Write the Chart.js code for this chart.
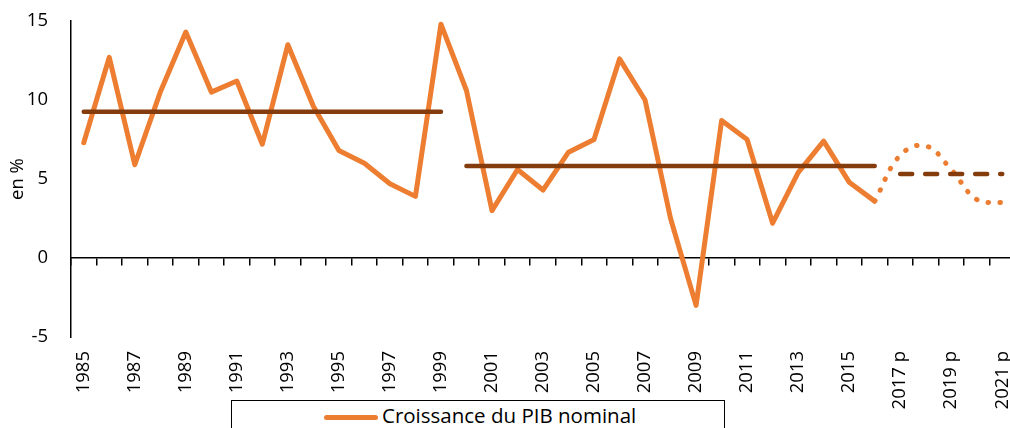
<!DOCTYPE html>
<html>
<head>
<meta charset="utf-8">
<script src="https://cdn.jsdelivr.net/npm/chart.js@4"></script>
<style>
  html, body { margin: 0; padding: 0; background: #fff; overflow: hidden; }
  #wrap { position: relative; width: 1016px; height: 428px; }
  #legendBox {
    position: absolute; left: 231px; top: 400px; width: 494px; height: 40px;
    border: 1.3px solid #000; box-sizing: border-box; background: #fff;
    font-family: "Open Sans", sans-serif; font-size: 20.5px; color: #000;
  }
  #legendBox .swatch {
    position: absolute; left: 92px; top: 14px; width: 54px; height: 5px;
    border-radius: 3px; background: #ED7D31;
  }
  #legendBox .txt { position: absolute; left: 150px; top: 0px; white-space: nowrap; }
</style>
</head>
<body>
<div id="wrap">
  <canvas id="myChart" width="1016" height="428"></canvas>
  <div id="legendBox"><span class="swatch"></span><span class="txt">Croissance du PIB nominal</span></div>
</div>
<script>
// categories
const years = ['1985','1986','1987','1988','1989','1990','1991','1992','1993','1994',
  '1995','1996','1997','1998','1999','2000','2001','2002','2003','2004',
  '2005','2006','2007','2008','2009','2010','2011','2012','2013','2014',
  '2015','2016','2017 p','2018 p','2019 p','2020 p','2021 p'];

// nominal GDP growth, observed (en %)
const growth = [7.3, 12.7, 5.9, 10.5, 14.3, 10.5, 11.2, 7.2, 13.5, 9.6,
  6.8, 6.0, 4.7, 3.9, 14.8, 10.6, 3.0, 5.6, 4.3, 6.7,
  7.5, 12.6, 10.0, 2.5, -3.0, 8.7, 7.5, 2.2, 5.4, 7.4,
  4.8, 3.6, null, null, null, null, null];

// forecast part (dotted)
const growthForecast = [null, null, null, null, null, null, null, null, null, null,
  null, null, null, null, null, null, null, null, null, null,
  null, null, null, null, null, null, null, null, null, null,
  null, 3.6, 6.5, 7.1, 5.6, 3.7, 3.5];

// period averages
const avg1985_1999 = [9.26, 9.26, 9.26, 9.26, 9.26, 9.26, 9.26, 9.26, 9.26, 9.26,
  9.26, 9.26, 9.26, 9.26, 9.26, null, null, null, null, null,
  null, null, null, null, null, null, null, null, null, null,
  null, null, null, null, null, null, null];
const avg2000_2016 = [null, null, null, null, null, null, null, null, null, null,
  null, null, null, null, null, 5.82, 5.82, 5.82, 5.82, 5.82,
  5.82, 5.82, 5.82, 5.82, 5.82, 5.82, 5.82, 5.82, 5.82, 5.82,
  5.82, 5.82, null, null, null, null, null];
const avg2017_2021 = [null, null, null, null, null, null, null, null, null, null,
  null, null, null, null, null, null, null, null, null, null,
  null, null, null, null, null, null, null, null, null, null,
  null, null, 5.32, 5.32, 5.32, 5.32, 5.32];

const yTicks = [-5, 0, 5, 10, 15];

const orange = '#ED7D31';
const brown = '#843C0C';
const font = { family: '"Open Sans", sans-serif', size: 18.5 };

Chart.defaults.color = '#000';

// no extra room for the rotated / end labels, the frame is set by hand
function noPad(s) {
  s.paddingLeft = 0; s.paddingRight = 0; s.paddingTop = 0; s.paddingBottom = 0;
}

const ctx = document.getElementById('myChart');
const mycoolchart = new Chart(ctx, {
  type: 'line',
  data: {
    labels: years,
    datasets: [
      { label: 'Croissance du PIB nominal', data: growth, borderColor: orange, borderWidth: 5,
        pointRadius: 0, borderCapStyle: 'round', borderJoinStyle: 'round', tension: 0, order: 2 },
      { label: 'Prévision', data: growthForecast, borderColor: orange, borderWidth: 5,
        borderDash: [0.5, 11.5], borderCapStyle: 'round', pointRadius: 0, tension: 0.4, order: 2 },
      { label: 'Moyenne 1985-1999', data: avg1985_1999, borderColor: brown, borderWidth: 4.5,
        pointRadius: 0, borderCapStyle: 'round', order: 1 },
      { label: 'Moyenne 2000-2016', data: avg2000_2016, borderColor: brown, borderWidth: 4.5,
        pointRadius: 0, borderCapStyle: 'round', order: 1 },
      { label: 'Moyenne 2017-2021', data: avg2017_2021, borderColor: brown, borderWidth: 4.5,
        borderDash: [12, 13], pointRadius: 0, borderCapStyle: 'round', order: 1 }
    ]
  },
  options: {
    responsive: false,
    animation: false,
    layout: { padding: { top: 21, right: 1, left: 0, bottom: 0 } },
    plugins: { legend: { display: false }, tooltip: { enabled: false } },
    scales: {
      x: {
        type: 'category',
        offset: true,
        grid: { display: false, drawTicks: false },
        border: { display: false },
        ticks: {
          autoSkip: false, minRotation: 90, maxRotation: 90, padding: 14, font: font,
          callback: function (val, i) { return i % 2 === 0 ? this.getLabelForValue(val) : ''; }
        },
        afterFit: s => { s.height = 91; noPad(s); }
      },
      x0: {
        type: 'category',
        labels: years,
        offset: true,
        position: { y: 0 },
        grid: { drawOnChartArea: false, drawTicks: true, tickLength: 7, offset: true, color: '#000', lineWidth: 1.5 },
        border: { display: true, color: '#000', width: 1.5 },
        ticks: { display: false },
        afterFit: s => { noPad(s); }
      },
      y: {
        min: -5, max: 15,
        afterBuildTicks: s => { s.ticks = yTicks.map(v => ({ value: v })); },
        grid: { display: false, drawTicks: false },
        border: { display: true, color: '#000', width: 1.5 },
        ticks: { padding: 23, font: font },
        title: { display: true, text: 'en %', font: font, padding: { top: 7, bottom: 0 } },
        afterFit: s => { s.width = 71; noPad(s); }
      }
    }
  }
});
</script>
</body>
</html>
